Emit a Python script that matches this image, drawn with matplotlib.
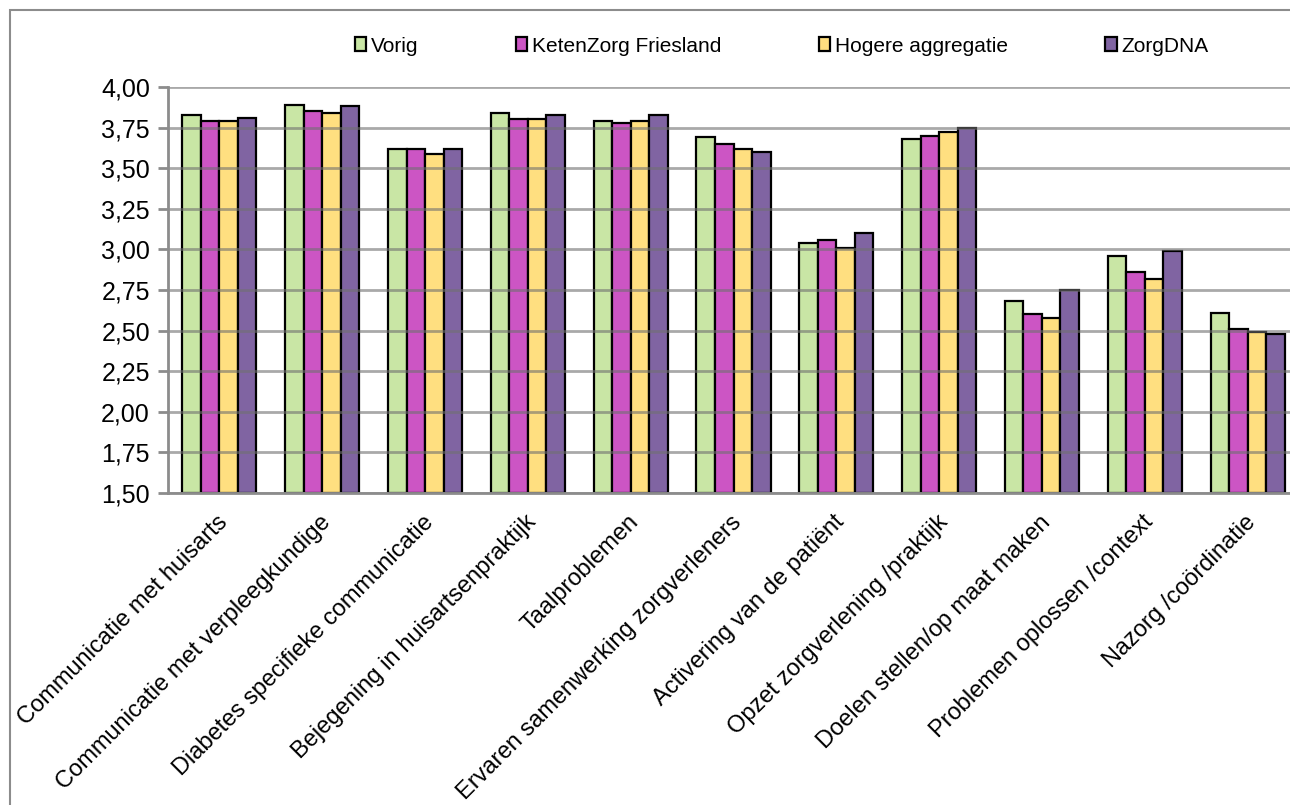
import numpy as np
import matplotlib.pyplot as plt
from matplotlib.ticker import FuncFormatter, MultipleLocator
from matplotlib.patches import Rectangle

plt.rcParams['font.family'] = ['Liberation Sans', 'DejaVu Sans']

categories = ['Communicatie met huisarts', 'Communicatie met verpleegkundige',
              'Diabetes specifieke communicatie', 'Bejegening in huisartsenpraktijk',
              'Taalproblemen', 'Ervaren samenwerking zorgverleners',
              'Activering van de patiënt', 'Opzet zorgverlening /praktijk',
              'Doelen stellen/op maat maken', 'Problemen oplossen /context',
              'Nazorg /coördinatie']
series = ['Vorig', 'KetenZorg Friesland', 'Hogere aggregatie', 'ZorgDNA']
vorig = [3.83, 3.89, 3.62, 3.84, 3.79, 3.69, 3.04, 3.68, 2.68, 2.96, 2.61]
ketenzorg = [3.79, 3.85, 3.62, 3.80, 3.78, 3.65, 3.06, 3.70, 2.60, 2.86, 2.51]
hogere = [3.79, 3.84, 3.59, 3.80, 3.79, 3.62, 3.01, 3.72, 2.58, 2.82, 2.49]
zorgdna = [3.81, 3.88, 3.62, 3.83, 3.83, 3.60, 3.10, 3.75, 2.75, 2.99, 2.48]
colors = ['#C9E6A5', '#CC55C4', '#FFDF80', '#8064A2']

W, H = 1290, 805
fig = plt.figure(figsize=(W / 100, H / 100), dpi=100)
# outer chart frame
fig.add_artist(Rectangle((10 / W, -0.1), 1.1, 1 - 10 / H + 0.1, transform=fig.transFigure,
                         fill=False, edgecolor='#8C8C8C', linewidth=1.5))

left, right, top, bottom = 168, 1299, 87, 493
ax = fig.add_axes([left / W, 1 - bottom / H, (right - left) / W, (bottom - top) / H])

x = np.arange(len(categories))
bw = 0.18
for i, (vals, c) in enumerate(zip([vorig, ketenzorg, hogere, zorgdna], colors)):
    ax.bar(x + (i - 1.5) * bw, np.array(vals) - 1.5, bottom=1.5, width=bw, color=c,
           edgecolor='black', linewidth=1.6, label=series[i], zorder=2)

ax.set_ylim(1.5, 4.0)
ax.set_xlim(-0.5, len(categories) - 0.5)
ax.yaxis.set_major_locator(MultipleLocator(0.25))
ax.yaxis.set_major_formatter(FuncFormatter(lambda v, p: f'{v:.2f}'.replace('.', ',')))
ax.grid(axis='y', color='#707070', alpha=0.6, linewidth=2, zorder=3)
ax.set_axisbelow(False)
for s in ['top', 'right']:
    ax.spines[s].set_visible(False)
for s in ['left', 'bottom']:
    ax.spines[s].set_color('#8C8C8C')
    ax.spines[s].set_linewidth(2)
    ax.spines[s].set_zorder(4)
ax.tick_params(axis='y', direction='out', length=7, width=2, color='#8C8C8C',
               labelsize=18, pad=6)
ax.tick_params(axis='x', length=0)
ax.set_xticks(x)
ax.set_xticklabels([])
for xi, lab in zip(x, categories):
    ax.annotate(lab, xy=(xi, 1.5), xycoords='data', xytext=(5, -26),
                textcoords='offset pixels', rotation=45, rotation_mode='anchor',
                ha='right', va='center', fontsize=17)

fig.legend(loc='center left', bbox_to_anchor=(338 / W, 1 - 46 / H), ncol=4, frameon=False,
           fontsize=15, handlelength=0.55, handleheight=0.65, handletextpad=0.25,
           columnspacing=4.65, borderpad=0.3)

fig.savefig('out.png', dpi=100)
